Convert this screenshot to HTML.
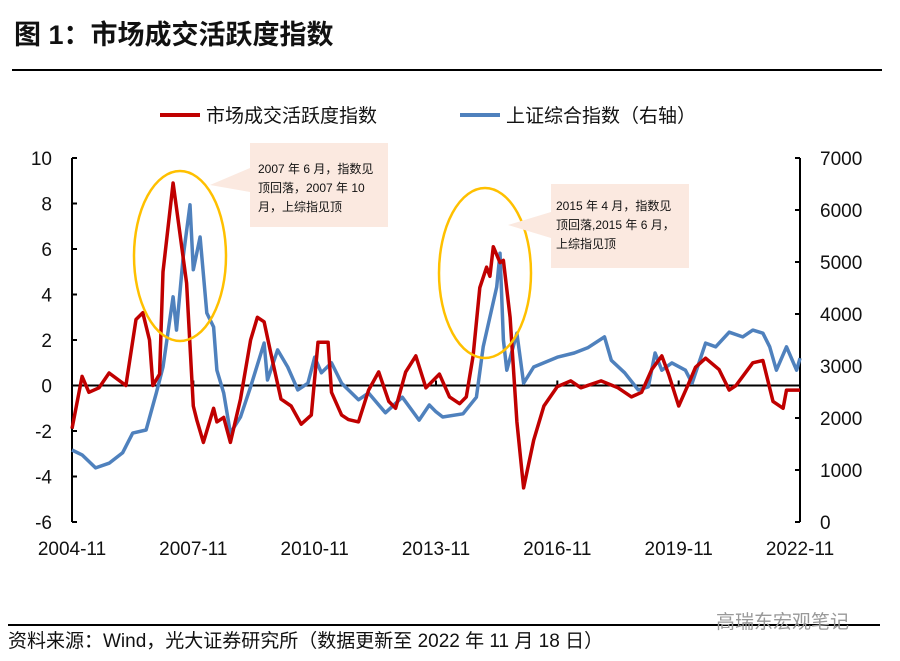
<!DOCTYPE html>
<html><head><meta charset="utf-8">
<style>
body{margin:0;width:900px;height:661px;background:#fff;overflow:hidden;font-family:"Liberation Sans","Noto Sans CJK SC",sans-serif;}
svg{position:absolute;left:0;top:0}
</style></head>
<body>
<svg width="900" height="661" viewBox="0 0 900 661">
<text x="14" y="44" font-size="27" font-weight="bold" fill="#111" font-family="Liberation Sans, Noto Sans CJK SC, sans-serif">图 1：市场成交活跃度指数</text>
<line x1="12" y1="70" x2="882" y2="70" stroke="#000" stroke-width="2"/>
<g>
 <line x1="160" y1="115" x2="200" y2="115" stroke="#c00000" stroke-width="4"/>
 <text x="206" y="122" font-size="19" fill="#111">市场成交活跃度指数</text>
 <line x1="460" y1="115" x2="500" y2="115" stroke="#4f81bd" stroke-width="4"/>
 <text x="506" y="122" font-size="19" fill="#111">上证综合指数（右轴）</text>
</g>
<g id="axes"></g>
<g id="series"></g>
<g>
 <ellipse cx="180" cy="256" rx="46" ry="85" fill="none" stroke="#ffc000" stroke-width="2.5"/>
 <polygon points="210,185 250,168 250,192" fill="#fbe9e0"/>
 <rect x="250" y="143" width="138" height="84" fill="#fbe9e0"/>
 <text font-size="12" fill="#111"><tspan x="258" y="173">2007 年 6 月，指数见</tspan><tspan x="258" y="192">顶回落，2007  年  10</tspan><tspan x="258" y="211">月，上综指见顶</tspan></text>
</g>
<g>
 <ellipse cx="485" cy="273" rx="46" ry="85" fill="none" stroke="#ffc000" stroke-width="2.5"/>
 <polygon points="508,225 551,212 551,238" fill="#fbe9e0"/>
 <rect x="551" y="184" width="138" height="84" fill="#fbe9e0"/>
 <text font-size="12" fill="#111"><tspan x="556" y="210">2015 年 4 月，指数见</tspan><tspan x="556" y="229">顶回落,2015 年 6 月，</tspan><tspan x="556" y="248">上综指见顶</tspan></text>
</g>
<line x1="8" y1="625" x2="880" y2="625" stroke="#000" stroke-width="2"/>
<text x="716" y="628" font-size="19" fill="#999">高瑞东宏观笔记</text>
<text x="8" y="647" font-size="19" fill="#111">资料来源：Wind，光大证券研究所（数据更新至 2022 年 11 月 18 日）</text>
</svg>
<script>
const xTickLabels=["2004-11","2007-11","2010-11","2013-11","2016-11","2019-11","2022-11"];
const leftTicks=[10,8,6,4,2,0,-2,-4,-6];
const rightTicks=[7000,6000,5000,4000,3000,2000,1000,0];
// months since 2004-11
const redMonths=[0,3,5,8,11,16,19,21,23,24,26,27,30,31,34,36,37,39,42,43,45,47,50,53,55,57,59,62,65,68,71,73,76,77,80,82,85,88,91,94,96,99,102,105,109,112,115,117,119,121,123,124,125,127,128,130,132,134,137,140,144,148,151,157,162,166,169,172,175,177,180,183,185,188,192,195,197,199,202,205,208,211,212,216];
const redValues=[-1.9,0.4,-0.3,-0.1,0.55,0,2.9,3.2,2.0,0,0.5,5.0,8.9,7.8,4.5,-0.9,-1.5,-2.5,-1.0,-1.6,-1.4,-2.5,-0.6,2.0,3.0,2.8,1.4,-0.6,-0.9,-1.7,-1.3,1.9,1.9,-0.3,-1.3,-1.5,-1.6,-0.2,0.6,-0.7,-1.0,0.6,1.3,-0.1,0.5,-0.5,-0.8,-0.5,1.3,4.3,5.2,4.8,6.1,5.4,5.5,3.0,-1.6,-4.5,-2.4,-0.9,-0.05,0.2,-0.1,0.2,-0.1,-0.5,-0.3,0.7,1.3,0.5,-0.9,0.1,0.8,1.2,0.7,-0.2,0,0.4,1.0,1.1,-0.7,-1.0,-0.2,-0.2];
const blueMonths=[0,3,7,11,15,18,22,25,27,30,31,33,35,36,38,40,42,43,45,47,50,53,57,58,61,64,67,70,72,74,77,80,85,88,93,98,103,106,108,110,116,120,122,126,127,128,129,132,134,137,144,149,153,158,160,164,168,171,173,175,178,182,184,188,191,195,199,202,205,207,209,212,215,216];
const blueValues=[1385,1290,1040,1130,1330,1710,1770,2480,2980,4330,3690,5100,6100,4850,5480,4020,3750,2920,2480,1710,2020,2600,3440,2730,3310,2980,2540,2670,3170,2870,3060,2670,2350,2480,2100,2400,1960,2250,2120,2020,2080,2400,3370,4520,5170,3500,2920,3630,2670,2980,3170,3250,3350,3560,3110,2870,2540,2600,3250,2920,3060,2920,2670,3440,3370,3650,3560,3690,3630,3370,2920,3370,2920,3150];

const X0=72,X1=800,Y0=158,Y1=522,NS="http://www.w3.org/2000/svg";
const xScale=m=>X0+(X1-X0)*m/216;
const yL=v=>Y1-(v+6)/16*(Y1-Y0);
const yR=v=>Y1-v/7000*(Y1-Y0);
function mk(tag,attrs,parent){const e=document.createElementNS(NS,tag);for(const k in attrs)e.setAttribute(k,attrs[k]);parent.appendChild(e);return e;}
const ax=document.getElementById('axes');
let e=mk('line',{x1:X0,y1:Y0,x2:X0,y2:Y1,stroke:'#000','stroke-width':2},ax);


e=mk('line',{x1:X1,y1:Y0,x2:X1,y2:Y1,stroke:'#000','stroke-width':2},ax);


e=mk('line',{x1:X0,y1:yL(0),x2:X1,y2:yL(0),stroke:'#000','stroke-width':2},ax);


leftTicks.forEach(v=>{
 const y=yL(v);
 let t=mk('line',{x1:X0,y1:y,x2:X0+5,y2:y,stroke:'#000','stroke-width':2},ax);
 
 
 let l=mk('text',{x:X0-20,y:y+7,'font-size':19,'text-anchor':'end',fill:'#111'},ax);
 l.textContent=v;
 
 
});
rightTicks.forEach(v=>{
 const y=yR(v);
 let t=mk('line',{x1:X1-5,y1:y,x2:X1,y2:y,stroke:'#000','stroke-width':2},ax);
 
 
 let l=mk('text',{x:X1+20,y:y+7,'font-size':19,fill:'#111'},ax);
 l.textContent=v;
 
 
});
xTickLabels.forEach((s,i)=>{
 const x=xScale(i*36);
 let t=mk('line',{x1:x,y1:yL(0)-5,x2:x,y2:yL(0),stroke:'#000','stroke-width':2},ax);
 
 
 let l=mk('text',{x:x,y:555,'font-size':19,'text-anchor':'middle',fill:'#111'},ax);
 l.textContent=s;
 
 
});
const sg=document.getElementById('series');
const bp=blueMonths.map((m,i)=>xScale(m).toFixed(1)+','+yR(blueValues[i]).toFixed(1)).join(' ');
let pb=mk('polyline',{points:bp,fill:'none',stroke:'#4f81bd','stroke-width':3.5,'stroke-linejoin':'round'},sg);


const rp=redMonths.map((m,i)=>xScale(m).toFixed(1)+','+yL(redValues[i]).toFixed(1)).join(' ');
let pr=mk('polyline',{points:rp,fill:'none',stroke:'#c00000','stroke-width':3.5,'stroke-linejoin':'round'},sg);


</script>
</body></html>
